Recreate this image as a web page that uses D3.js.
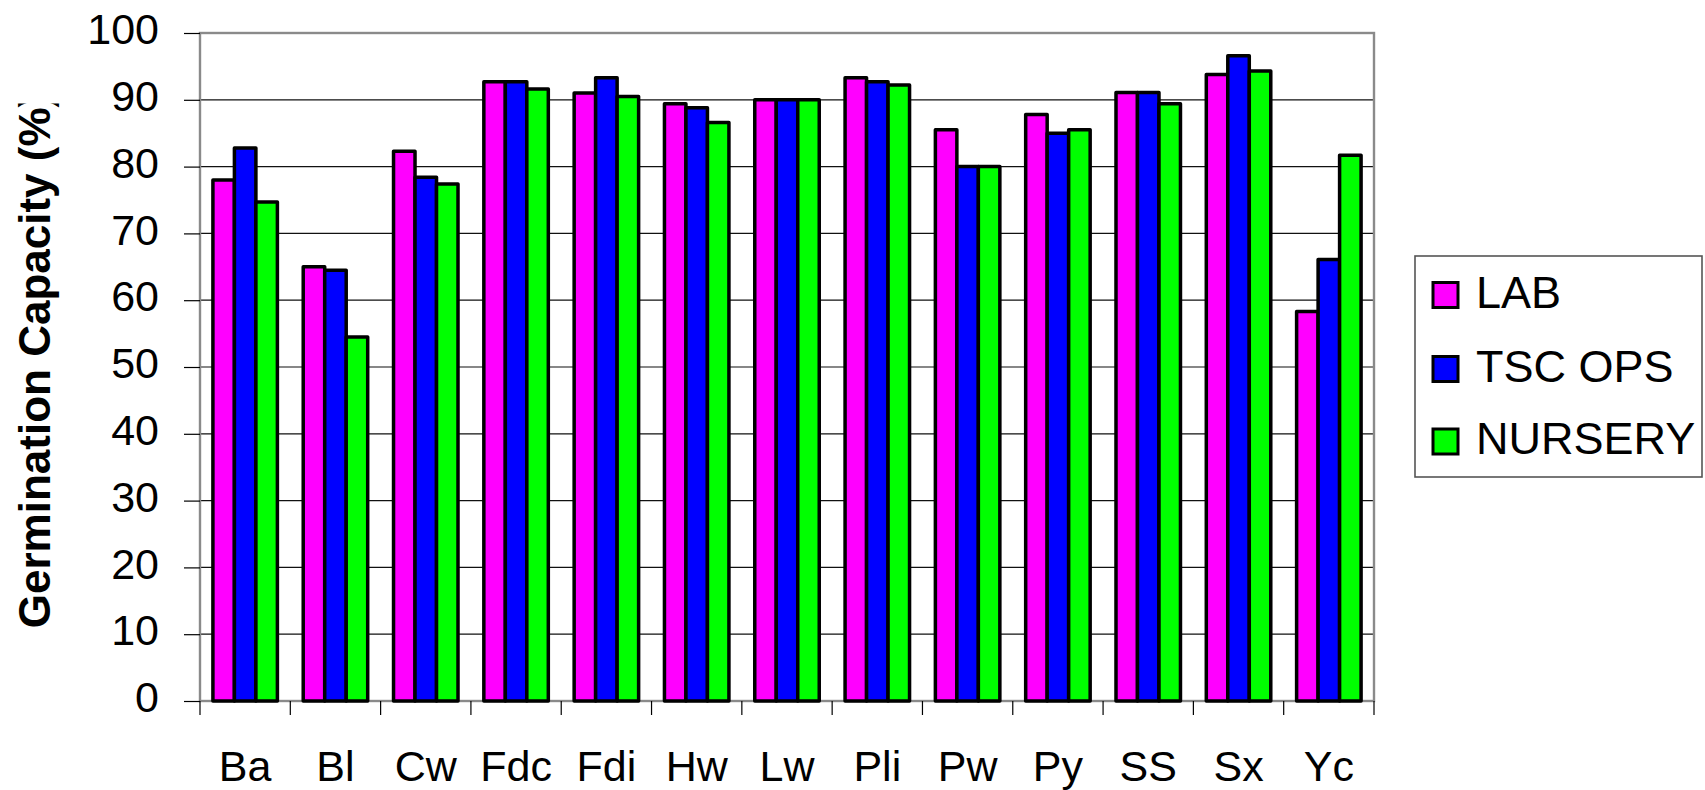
<!DOCTYPE html>
<html>
<head>
<meta charset="utf-8">
<script src="https://cdn.jsdelivr.net/npm/d3@7"></script>
<style>
  html, body { margin: 0; padding: 0; background: #fff; }
  svg { display: block; font-family: "Liberation Sans", Arial, sans-serif; }
</style>
</head>
<body>
<svg id="chart" width="1705" height="790"></svg>
<script>
// Species codes along the x axis
const categories = ["Ba", "Bl", "Cw", "Fdc", "Fdi", "Hw", "Lw", "Pli", "Pw", "Py", "SS", "Sx", "Yc"];

// Germination capacity (%) per test source
const seriesNames = ["LAB", "TSC OPS", "NURSERY"];
const labValues     = [78.0, 65.0, 82.3, 92.7, 91.0, 89.4, 90.0, 93.3, 85.5, 87.8, 91.1, 93.8, 58.3];
const tscOpsValues  = [82.8, 64.5, 78.4, 92.7, 93.3, 88.8, 90.0, 92.7, 80.0, 85.0, 91.1, 96.6, 66.1];
const nurseryValues = [74.7, 54.5, 77.4, 91.6, 90.5, 86.6, 90.0, 92.2, 80.0, 85.5, 89.4, 94.3, 81.7];

const yTicks = [0, 10, 20, 30, 40, 50, 60, 70, 80, 90, 100];
const seriesColors = ["#FF00FF", "#0000FF", "#00FF00"];

const seriesValues = [labValues, tscOpsValues, nurseryValues];
const rows = categories.map((c, i) => ({
  cat: c,
  vals: seriesNames.map((s, j) => ({ series: s, idx: j, value: seriesValues[j][i] }))
}));

const svg = d3.select("#chart");
const plot = { left: 200, right: 1374, top: 33, bottom: 701 };

const x0 = d3.scaleBand().domain(categories).range([plot.left, plot.right]).padding(0);
const bw = x0.bandwidth();
const groupFrac = 0.714;
const x1 = d3.scaleBand().domain(seriesNames)
  .range([bw * (1 - groupFrac) / 2, bw * (1 + groupFrac) / 2]).padding(0);
const y = d3.scaleLinear().domain([0, 100]).range([plot.bottom, plot.top]);

// Horizontal gridlines
svg.append("g")
  .selectAll("line")
  .data(yTicks.filter(t => t > 0 && t < 100))
  .join("line")
  .attr("x1", plot.left).attr("x2", plot.right)
  .attr("y1", d => y(d)).attr("y2", d => y(d))
  .attr("stroke", "#111").attr("stroke-width", 1.2);

// Plot frame
svg.append("rect")
  .attr("x", plot.left).attr("y", plot.top)
  .attr("width", plot.right - plot.left).attr("height", plot.bottom - plot.top)
  .attr("fill", "none").attr("stroke", "#8a8a8a").attr("stroke-width", 2.4);

// Bars
svg.append("g")
  .selectAll("g")
  .data(rows)
  .join("g")
  .attr("transform", d => `translate(${x0(d.cat)},0)`)
  .selectAll("rect")
  .data(d => d.vals)
  .join("rect")
  .attr("x", d => x1(d.series))
  .attr("width", x1.bandwidth())
  .attr("y", d => y(d.value))
  .attr("height", d => y(0) - y(d.value))
  .attr("fill", d => seriesColors[d.idx])
  .attr("stroke", "#000")
  .attr("stroke-width", 3.5)
  .attr("stroke-linejoin", "round");

// Y axis
const yAxis = svg.append("g")
  .attr("transform", `translate(${plot.left},0)`)
  .call(d3.axisLeft(y).tickValues(yTicks).tickSize(16).tickPadding(25).tickFormat(d3.format("d")));
yAxis.select(".domain").remove();
yAxis.selectAll(".tick line").attr("stroke", "#000").attr("stroke-width", 1.2);
yAxis.selectAll(".tick text")
  .attr("font-size", 43).attr("fill", "#000")
  .attr("font-family", "Liberation Sans, Arial, sans-serif")
  .attr("dy", "0.25em");

// X axis: category labels centred in each band, ticks at band boundaries
const xAxis = svg.append("g")
  .attr("transform", `translate(0,${plot.bottom})`)
  .call(d3.axisBottom(x0).tickSize(0).tickPadding(49));
xAxis.select(".domain").remove();
xAxis.selectAll(".tick text")
  .attr("font-size", 43).attr("fill", "#000")
  .attr("font-family", "Liberation Sans, Arial, sans-serif")
  .attr("dy", "0.71em");

const boundaries = categories.map(c => x0(c)).concat([plot.right]);
svg.append("g")
  .selectAll("line")
  .data(boundaries)
  .join("line")
  .attr("x1", d => d).attr("x2", d => d)
  .attr("y1", plot.bottom).attr("y2", plot.bottom + 14)
  .attr("stroke", "#000").attr("stroke-width", 1.2);

// Y axis title (clipped at its upper end)
svg.append("clipPath").attr("id", "titleClip")
  .append("rect").attr("x", 0).attr("y", 103.5).attr("width", 120).attr("height", 686);
svg.append("g")
  .attr("clip-path", "url(#titleClip)")
  .append("text")
  .attr("transform", "translate(50,360.5) rotate(-90)")
  .attr("text-anchor", "middle")
  .attr("font-size", 44)
  .attr("font-weight", "bold")
  .attr("fill", "#000")
  .text("Germination Capacity (%)");

// Legend
const legend = svg.append("g");
legend.append("rect")
  .attr("x", 1415).attr("y", 256).attr("width", 287).attr("height", 221)
  .attr("fill", "#fff").attr("stroke", "#555").attr("stroke-width", 1.6);
const legendRowY = [295, 369, 441.5];
const items = legend.selectAll("g.item")
  .data(seriesNames)
  .join("g")
  .attr("class", "item")
  .attr("transform", (d, i) => `translate(0,${legendRowY[i]})`);
items.append("rect")
  .attr("x", 1433).attr("y", -12.5).attr("width", 25).attr("height", 25)
  .attr("fill", (d, i) => seriesColors[i])
  .attr("stroke", "#000").attr("stroke-width", 3);
items.append("text")
  .attr("x", 1476).attr("y", 12.5)
  .attr("font-size", 45).attr("fill", "#000")
  .text(d => d);
</script>
</body>
</html>
